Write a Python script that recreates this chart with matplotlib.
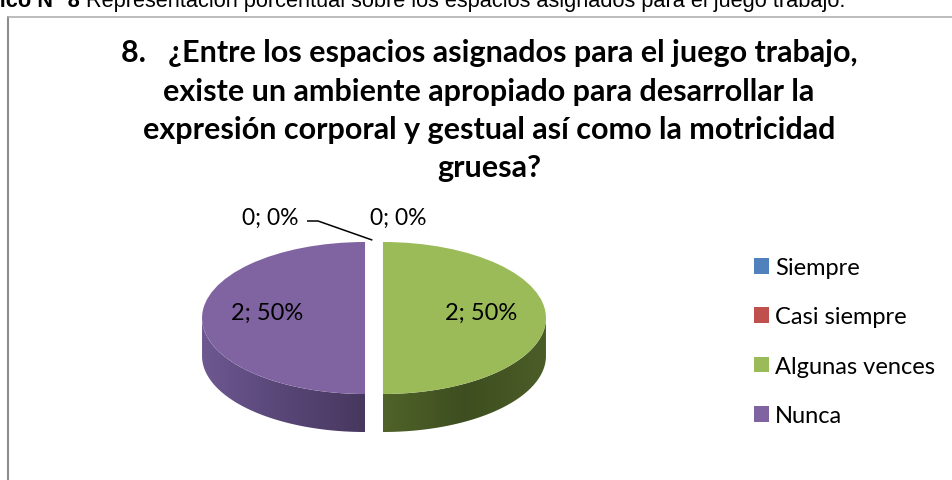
import numpy as np
import matplotlib
matplotlib.use("Agg")
import matplotlib.pyplot as plt
from matplotlib.patches import Polygon, Rectangle
from matplotlib.lines import Line2D
from matplotlib.colors import LinearSegmentedColormap

# ---------------- data ----------------
categories = ['Siempre', 'Casi siempre', 'Algunas vences', 'Nunca']
values = [0, 0, 2, 2]
colors = ['#4F81BD', '#C0504D', '#9BBB59', '#8064A2']
side_colors = [
    ['#3a5f8c', '#2c486b', '#3a5f8c'],
    ['#8e3b39', '#6c2c2b', '#8e3b39'],
    ['#506329', '#3e4e20', '#4b5d27'],
    ['#6e5891', '#584677', '#47385f'],
]
title_lines = [
    '8.   ¿Entre los espacios asignados para el juego trabajo,',
    'existe un ambiente apropiado para desarrollar la',
    'expresión corporal y gestual así como la motricidad',
    'gruesa?',
]
caption_bold = 'Gráfico N° 8'
caption_text = 'Representación porcentual sobre los espacios asignados para el juego trabajo.'

FONT = ['Lato', 'DejaVu Sans']
ARIAL = ['Liberation Sans', 'DejaVu Sans']

W, H = 952, 481
fig = plt.figure(figsize=(W / 100, H / 100), dpi=100)
fig.patch.set_facecolor('white')

# pixel geometry of the pie
cx_pix, cy_pix, a_pix, b_pix = 374, 319, 163, 76
depth = 38 / b_pix

ax = fig.add_axes([0, 0, 1, 1])
total = sum(values)
wedges, _ = ax.pie(values, colors=colors, startangle=90, counterclock=False,
                   explode=[0.055] * len(values), radius=1,
                   wedgeprops=dict(linewidth=0))
for w in wedges:
    w.set_zorder(3)


def set_limits():
    ax.set_aspect('auto')
    ax.set_xlim(-cx_pix / a_pix, (W - cx_pix) / a_pix)
    ax.set_ylim((cy_pix - H) / b_pix, cy_pix / b_pix)


set_limits()
ax.axis('off')

# ---- 3D sides ----
for w, sc, v in zip(wedges, side_colors, values):
    if v <= 0:
        continue
    t1, t2 = w.theta1, w.theta2
    ts = np.linspace(t1, t2, 400)
    ts = ts[np.sin(np.radians(ts)) <= 1e-9]
    if len(ts) < 2:
        continue
    cxw, cyw = w.center
    r = w.r
    xs = cxw + r * np.cos(np.radians(ts))
    ys = cyw + r * np.sin(np.radians(ts))
    verts = np.concatenate([np.column_stack([xs, ys]),
                            np.column_stack([xs[::-1], ys[::-1] - depth])])
    poly = Polygon(verts, closed=True, facecolor='none', edgecolor='none')
    ax.add_patch(poly)
    cmap = LinearSegmentedColormap.from_list('side', sc)
    grad = np.linspace(0, 1, 256).reshape(1, -1)
    im = ax.imshow(grad, cmap=cmap, aspect='auto', zorder=2,
                   extent=[xs.min(), xs.max(), ys.min() - depth, ys.max()],
                   interpolation='bilinear')
    im.set_clip_path(poly)

set_limits()

# ---- data labels ----
for w, v in zip(wedges, values):
    pct = 100 * v / total
    lab = f'{v}; {pct:.0f}%'
    ang = np.radians((w.theta1 + w.theta2) / 2)
    cxw, cyw = w.center
    if v > 0:
        ax.text(cxw + 0.6 * np.cos(ang), cyw + 0.6 * np.sin(ang) + 0.08, lab,
                ha='center', va='center', fontsize=17, family=FONT, zorder=5)

# zero-value labels (outside, at the top)
zero_idx = [i for i, v in enumerate(values) if v == 0]
top_pt = (wedges[zero_idx[0]].center[0], wedges[zero_idx[0]].center[1] + 1.0)
lx, ly = (270 - cx_pix) / a_pix, (cy_pix - 218) / b_pix
rx = (398 - cx_pix) / a_pix
ax.text(lx, ly, f'{values[zero_idx[0]]}; 0%', ha='center', va='center',
        fontsize=16.5, family=FONT, zorder=5)
ax.text(rx, ly, f'{values[zero_idx[1]]}; 0%', ha='center', va='center',
        fontsize=16.5, family=FONT, zorder=5)
ax.plot([(307 - cx_pix) / a_pix, (318 - cx_pix) / a_pix, top_pt[0] - 0.01],
        [(cy_pix - 222) / b_pix, (cy_pix - 222) / b_pix, top_pt[1] - 0.03],
        color='black', lw=1.1, zorder=5, solid_capstyle='butt')

# ---- title ----
title_y = [53, 92, 130, 168]
for line, yp in zip(title_lines, title_y):
    fig.text(489 / W, 1 - yp / H, line, ha='center', va='center',
             fontsize=22, fontweight='bold', family=FONT)

# ---- caption (cut at top) ----
fig.text(80 / W, 1 - 7 / H, caption_bold, ha='right', va='baseline',
         fontsize=15.7, fontweight='bold', family=ARIAL)
fig.text(86 / W, 1 - 7 / H, caption_text, ha='left', va='baseline',
         fontsize=15.7, family=ARIAL)

# ---- frame ----
fc = '#8c8c8c'
fig.add_artist(Line2D([8 / W, 8 / W], [0, 1 - 18 / H], color=fc, lw=1.5,
                      transform=fig.transFigure))
fig.add_artist(Line2D([8 / W, 1], [1 - 18 / H, 1 - 18 / H], color='#b0b0b0', lw=1.2,
                      transform=fig.transFigure))

# ---- legend ----
handles = [Rectangle((0, 0), 1, 1, facecolor=c, edgecolor='none') for c in colors]
leg = fig.legend(handles, categories, loc='upper left',
                 bbox_to_anchor=(754 / W, 1 - 258 / H), frameon=False,
                 prop={'family': FONT, 'size': 17},
                 handlelength=0.64, handleheight=0.64, handletextpad=0.25,
                 labelspacing=1.2, borderaxespad=0, borderpad=0)

fig.savefig('out.png', dpi=100, facecolor='white')
